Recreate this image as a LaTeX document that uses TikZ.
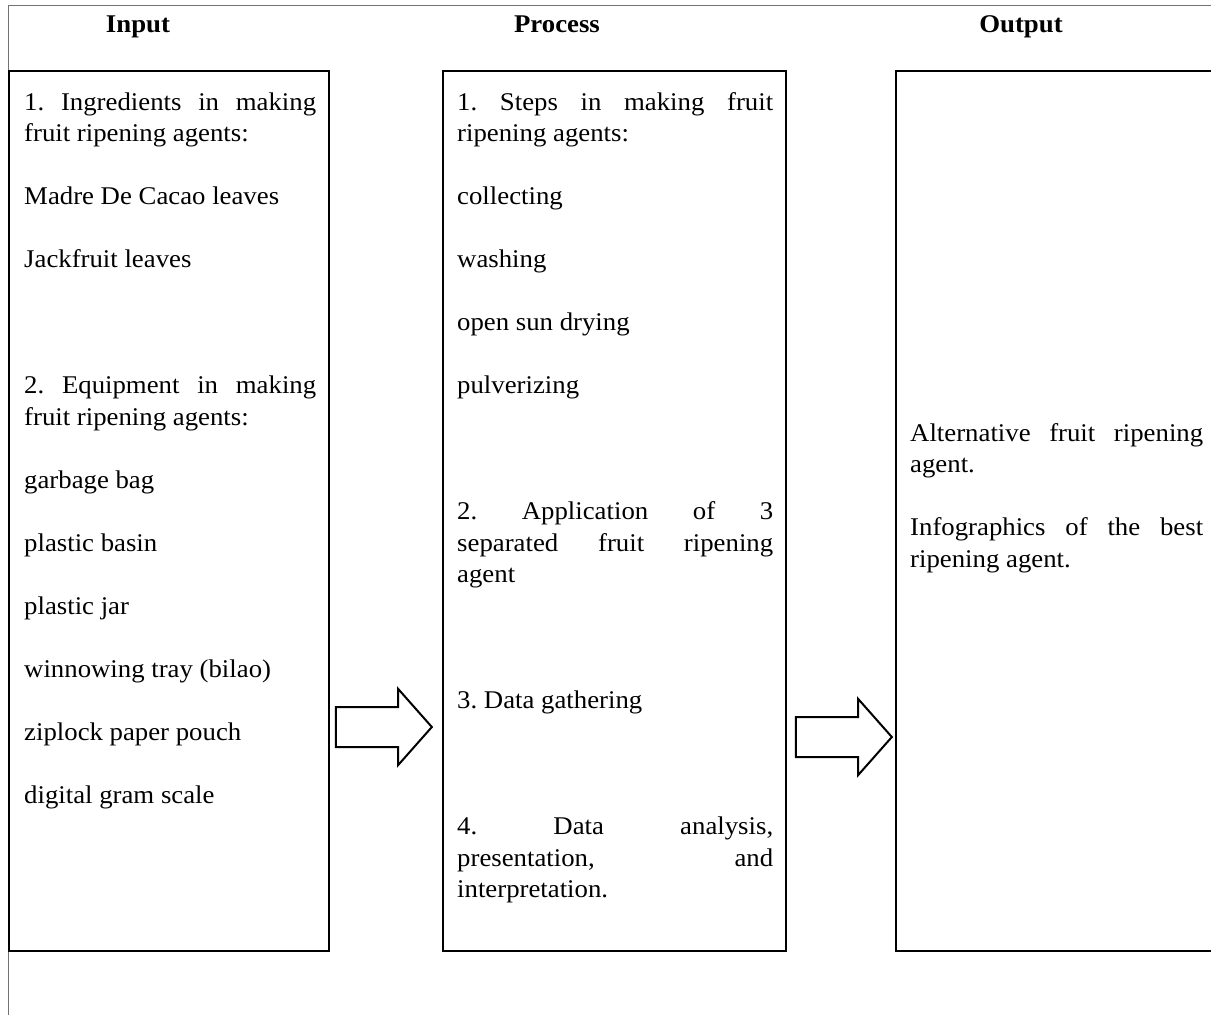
\documentclass[tikz,border=0pt]{standalone}
\usepackage{fontspec}
\setmainfont[FakeStretch=1.05]{Liberation Serif}
\usetikzlibrary{shapes.arrows,positioning}
\frenchspacing

\newcommand{\gapone}{\par\vspace{31.5pt}}
\newcommand{\gaptwo}{\par\vspace{94.5pt}}

\tikzset{
	box/.style={draw=black, line width=2pt, minimum width=#1, minimum height=880pt, anchor=north west, inner sep=0pt, outer sep=0pt},
	txt/.style={text width=#1, align=justify, anchor=base west, inner sep=0pt, font=\fontsize{25.5pt}{31.5pt}\selectfont},
	head/.style={anchor=base, inner sep=0pt, font=\fontsize{25.5pt}{31.5pt}\selectfont\bfseries},
	blockarrow/.style={single arrow, draw=black, line width=2pt, minimum height=96pt, inner xsep=0pt, inner ysep=19pt, single arrow head extend=18pt, single arrow tip angle=97},
	frame/.style={draw=black!55, line width=1pt},
}

\begin{document}
\begin{tikzpicture}[x=1pt, y=-1pt]
	\useasboundingbox (0,0) rectangle (1211,1015);
	\draw[frame] (8,1015) -- (8,5) -- (1211,5);

	\node[head] (inhead) at (138,32) {Input};
	\node[head] (prochead) at (557,32) {Process};
	\node[head] (outhead) at (1021,32) {Output};

	\node[box=320pt] (inbox) at (9,71) {};
	\node[box=343pt] (procbox) at (443,71) {};
	\node[box=400pt] (outbox) at (896,71) {};

	\node[txt=292pt] (intext) at (24,110) {1. Ingredients in making\linebreak fruit ripening agents:\gapone
		Madre De Cacao leaves\gapone
		Jackfruit leaves\gaptwo
		2. Equipment in making\linebreak fruit ripening agents:\gapone
		garbage bag\gapone
		plastic basin\gapone
		plastic jar\gapone
		winnowing tray (bilao)\gapone
		ziplock paper pouch\gapone
		digital gram scale};
	\node[txt=316pt] (proctext) at (457,110) {1. Steps in making fruit\linebreak ripening agents:\gapone
		collecting\gapone
		washing\gapone
		open sun drying\gapone
		pulverizing\gaptwo
		2. Application of 3\linebreak separated fruit ripening\linebreak agent\gaptwo
		3. Data gathering\gaptwo
		4. Data analysis,\linebreak presentation, and\linebreak interpretation.};
	\node[txt=293pt] (outtext) at (910,441) {Alternative fruit ripening\linebreak agent.\gapone
		Infographics of the best\linebreak ripening agent.};

	\node[blockarrow] (inarrow) at (375,727) {};
	\node[blockarrow] (outarrow) at (835,737) {};
\end{tikzpicture}
\end{document}
